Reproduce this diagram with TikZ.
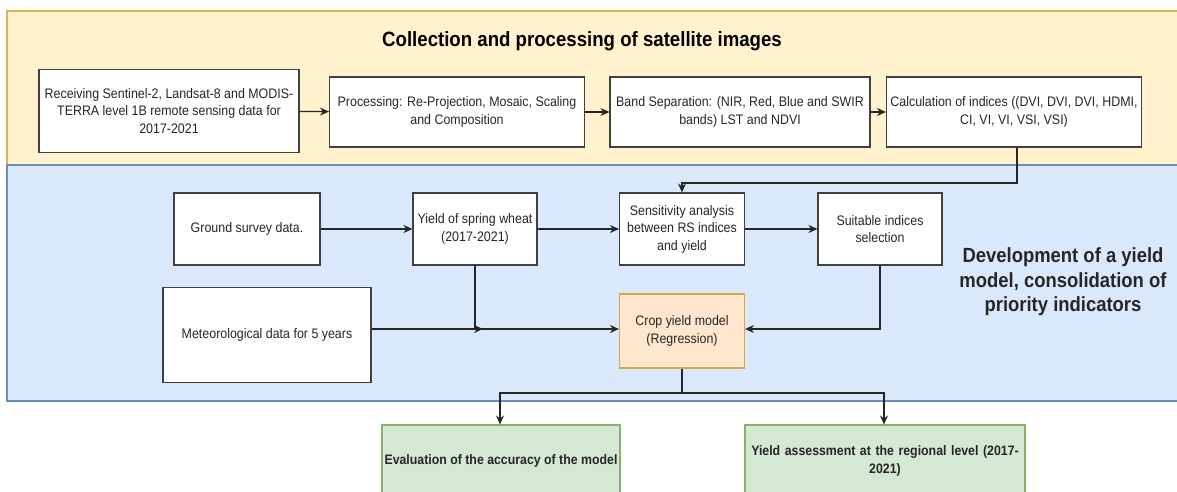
\documentclass[tikz,border=0pt]{standalone}
\usepackage{fontspec}
\setmainfont{Liberation Sans}[FakeStretch=0.9]
\usetikzlibrary{arrows.meta}
\definecolor{yfill}{HTML}{FFF2CC}
\definecolor{ydraw}{HTML}{D6B656}
\definecolor{bfill}{HTML}{DAE8FC}
\definecolor{bdraw}{HTML}{6C8EBF}
\definecolor{ofill}{HTML}{FFE6CC}
\definecolor{odraw}{HTML}{D6A74A}
\definecolor{gfill}{HTML}{D5E8D4}
\definecolor{gdraw}{HTML}{82B366}
\definecolor{txt}{HTML}{262626}
\tikzset{
  box/.style={draw=black!75, fill=white, line width=1.1pt, align=center, inner sep=2pt,
    font=\fontsize{13.8}{17.5}\selectfont, text=txt},
  gbox/.style={box, draw=gdraw, fill=gfill, font=\fontsize{13.7}{17.5}\selectfont\bfseries},
  obox/.style={box, draw=odraw, fill=ofill},
  conn/.style={line width=1.2pt, draw=black!85, -{Stealth[length=9pt,width=8pt]}},
  line/.style={line width=1.2pt, draw=black!85},
}
\begin{document}
\begin{tikzpicture}[x=1pt,y=-1pt]
\useasboundingbox (0,0) rectangle (1177,492);
\begin{scope}
\clip (0,0) rectangle (1177,492);
% panels
\draw[fill=yfill, draw=ydraw, line width=1.2pt] (7,11) rectangle (1180,165);
\draw[fill=bfill, draw=bdraw, line width=1.2pt] (7,165) rectangle (1180,401);
\node[font=\fontsize{20.7}{24}\selectfont\bfseries] (t1) at (582,41) {Collection and processing of satellite images};
\node[font=\fontsize{20.5}{24.5}\selectfont\bfseries, align=center, text=txt] (t2) at (1063,282) {Development of a yield\\model, consolidation of\\priority indicators};
% top row
\node[box, minimum width=260pt, minimum height=83pt] (b1) at (169,111) {Receiving Sentinel-2, Landsat-8 and MODIS-\\TERRA level 1B remote sensing data for\\2017-2021};
\node[box, minimum width=255pt, minimum height=70pt] (b2) at (457,112) {Processing: Re-Projection, Mosaic, Scaling\\and Composition};
\node[box, minimum width=260pt, minimum height=70pt] (b3) at (740,112) {Band Separation: (NIR, Red, Blue and SWIR\\bands) LST and NDVI};
\node[box, minimum width=255pt, minimum height=70pt] (b4) at (1014,112) {Calculation of indices ((DVI, DVI, DVI, HDMI,\\CI, VI, VI, VSI, VSI)};
% middle
\node[box, minimum width=146pt, minimum height=72pt] (gs) at (247,229) {Ground survey data.};
\node[box, minimum width=124pt, minimum height=72pt] (yw) at (475,229) {Yield of spring wheat\\(2017-2021)};
\node[box, minimum width=125pt, minimum height=72pt] (sa) at (682,229) {Sensitivity analysis\\between RS indices\\and yield};
\node[box, minimum width=124pt, minimum height=72pt] (si) at (880,229) {Suitable indices\\selection};
\node[box, minimum width=208pt, minimum height=95pt] (md) at (267,335) {Meteorological data for 5 years};
\node[obox, minimum width=125pt, minimum height=74pt] (cm) at (682,331) {Crop yield model\\(Regression)};
% bottom
\node[gbox, minimum width=238pt, minimum height=72pt] (ev) at (501,461) {Evaluation of the accuracy of the model};
\node[gbox, text width=270pt, minimum width=280pt, minimum height=72pt] (ya) at (885,461) {Yield assessment at the regional level (2017-\\2021)};
% connectors
\draw[conn] (b1) -- (b2);
\draw[conn] (b2) -- (b3);
\draw[conn] (b3) -- (b4);
\coordinate (k1) at (1017,183);
\draw[conn] (b4.south -| k1) -- (k1) -- (k1 -| sa) -- (sa.north);
\draw[conn] (gs) -- (yw);
\draw[conn] (yw) -- (sa);
\draw[conn] (sa) -- (si);
\coordinate (j1) at (483,329);
\draw[conn] (md.east |- j1) -- (j1);
\draw[conn] (yw.south) -- (yw.south |- j1) -- (cm.west |- j1);
\draw[conn] (si.south) -- (si.south |- j1) -- (cm.east |- j1);
\coordinate (sp) at (682,393);
\draw[line] (cm.south) -- (sp);
\draw[conn] (sp) -- (sp -| 500,0) -- (ev.north -| 500,0);
\draw[conn] (sp) -- (sp -| 884,0) -- (ya.north -| 884,0);
\end{scope}
\end{tikzpicture}
\end{document}
